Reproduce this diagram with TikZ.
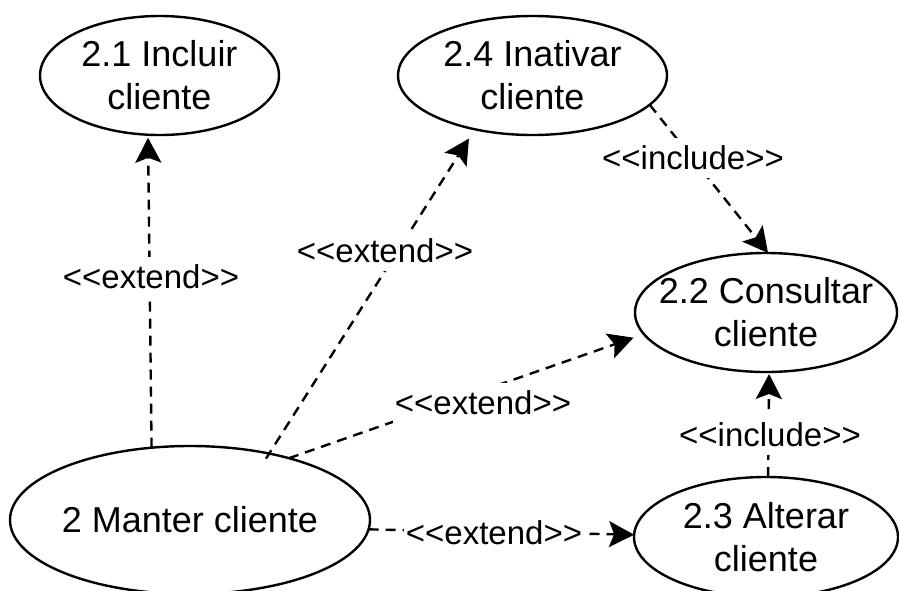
\documentclass[tikz,border=0pt]{standalone}
\usepackage{fontspec}
\setmainfont{Liberation Sans}
\newfontfamily\uf{Liberation Sans}
\usetikzlibrary{shapes.geometric,arrows.meta}
\begin{document}
\begin{tikzpicture}[x=1pt,y=-1pt,
  uc/.style={ellipse,draw,line width=2.4pt,inner xsep=-30pt,inner ysep=-12pt,outer sep=0pt,align=center,font=\uf\fontsize{36}{43}\selectfont},
  rel/.style={line width=2.4pt,dash pattern=on 10pt off 7pt,-{Stealth[length=25pt,width=26pt,inset=5pt]}},
  lbl/.style={fill=white,inner xsep=2pt,inner ysep=8pt,font=\uf\fontsize{33}{40}\selectfont}]
\useasboundingbox[fill=white] (0,0) rectangle (899,590);
\node[uc,minimum width=239pt,minimum height=119pt] (inc) at (159.5,75.5) {2.1 Incluir\\cliente};
\node[uc,minimum width=269pt,minimum height=119pt] (ina) at (532.5,75.5) {2.4 Inativar\\cliente};
\node[uc,minimum width=262pt,minimum height=119pt] (con) at (766,312.5) {2.2 Consultar\\cliente};
\node[uc,minimum width=360pt,minimum height=148pt] (man) at (190,520) {2 Manter cliente};
\node[uc,minimum width=264pt,minimum height=120pt] (alt) at (766,537) {2.3 Alterar\\cliente};
\draw[rel,shorten >=3pt] (man.118) -- (inc.259);
\draw[rel,shorten >=11pt,shorten <=-6pt] (man.40) -- (ina.223);
\draw[rel] (ina.346) -- (con.88);
\draw[rel,shorten >=11pt] (man.32) -- (con.190);
\draw[rel] (man.-3) -- (alt.179);
\draw[rel,shorten >=2pt] (alt.88) -- (con.273);
\node[lbl] (l1) at (151,277) {<<extend>>};
\node[lbl] (l2) at (385,251) {<<extend>>};
\node[lbl] (l3) at (483,403) {<<extend>>};
\node[lbl] (l4) at (494,533) {<<extend>>};
\node[lbl] (l5) at (693,158) {<<include>>};
\node[lbl] (l6) at (770,435) {<<include>>};
\end{tikzpicture}
\end{document}
